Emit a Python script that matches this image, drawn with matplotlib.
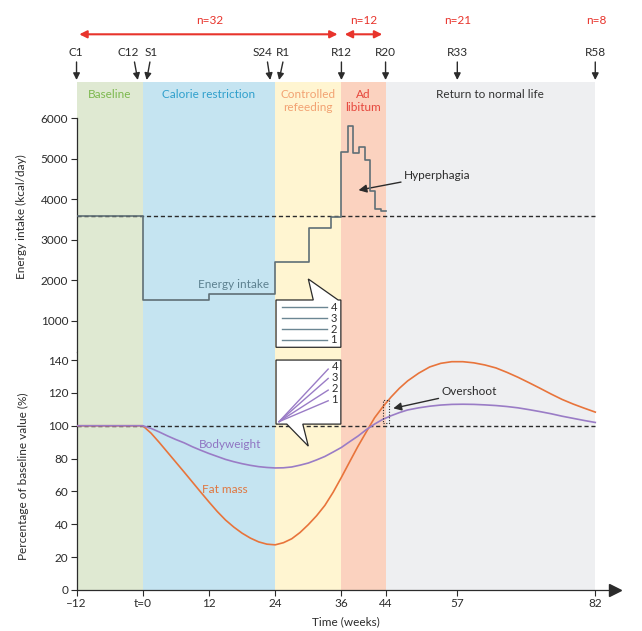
import numpy as np
import matplotlib.pyplot as plt
import matplotlib.transforms as mtransforms
from matplotlib.patches import Polygon, Rectangle

plt.rcParams['font.family'] = ['Lato', 'DejaVu Sans']
plt.rcParams['font.size'] = 8.5

# ---- data ----
phase_edges = [-12, 0, 24, 36, 44, 82]
phase_names = ['Baseline', 'Calorie restriction', 'Controlled\nrefeeding', 'Ad\nlibitum',
               'Return to normal life']
phase_fill = ['#dfe9d2', '#c5e4f1', '#fff5d1', '#fbd2bf', '#eeeff1']
phase_text = ['#7cb84e', '#2f9fcc', '#f2a272', '#e6463c', '#333333']

intake_weeks = [-12, 0, 12, 24, 30.2, 34.2, 36, 37.2, 38.1, 39.1, 40.2, 41.1, 42.1, 43.2, 44.1]
intake_kcal = [3600, 1520, 1660, 2460, 3290, 3560, 5180, 5820, 5140, 5280, 4970, 4210, 3760,
               3710, 3710]
baseline_kcal = 3600

curve_weeks = [-12, 0, 1.5, 3, 4.5, 6, 7.5, 9, 10.5, 12, 13.5, 15, 16.5, 18, 19.5, 21, 22.5,
               24, 25.5, 27, 28.5, 30, 31.5, 33, 34.5, 36, 37.5, 39, 40.5, 42, 43.5, 45, 46.5,
               48, 50, 52, 54, 56, 58, 60, 62, 64, 66, 68, 70, 72, 74, 76, 78, 80, 82]
bodyweight = [100, 100, 98.4, 96.2, 93.8, 91.6, 89.6, 87.2, 85.1, 83.1, 81.3, 79.5, 78.1, 76.9,
              75.9, 75.1, 74.6, 74.3, 74.4, 74.9, 76.0, 77.3, 79.2, 81.3, 84.0, 86.8, 90.3,
              93.7, 97.6, 101.0, 103.9, 106.1, 108.0, 109.6, 110.9, 111.9, 112.6, 113.0, 113.1,
              113.0, 112.7, 112.3, 111.7, 110.9, 109.8, 108.6, 107.3, 105.8, 104.5, 103.2, 102.0]
fat_mass = [100, 100, 95.5, 89.8, 83.8, 77.8, 71.8, 65.7, 59.6, 53.6, 47.8, 42.6, 38.3, 34.6,
            31.6, 29.3, 27.9, 27.5, 28.8, 31.2, 35.0, 39.8, 45.2, 51.5, 59.5, 68.6, 78.1, 87.5,
            96.2, 104.8, 111.5, 117.5, 122.8, 127.3, 132.0, 135.8, 138.0, 139.0, 139.0, 138.3,
            137.0, 135.2, 132.5, 129.5, 126.2, 122.8, 119.3, 116.0, 113.2, 110.7, 108.3]
baseline_pct = 100

xtick_weeks = [-12, 0, 12, 24, 36, 44, 57, 82]
xtick_labels = ['\u201312', 't=0', '12', '24', '36', '44', '57', '82']

visit_labels = ['C1', 'C12', 'S1', 'S24', 'R1', 'R12', 'R20', 'R33', 'R58']
visit_tip = [-12, -0.9, 0.7, 23.1, 24.7, 36, 44, 57, 82]
visit_tail = [-12, -1.5, 1.3, 22.6, 25.4, 36, 44, 57, 82]
visit_text = [-12.2, -2.6, 1.5, 21.7, 25.5, 36, 44, 57, 82]

n_labels = ['n=32', 'n=12', 'n=21', 'n=8']
n_weeks = [12.1, 40, 57, 82.2]
n_spans = [(-11.5, 35.3), (36.6, 43.4)]

step_levels = ['4', '3', '2', '1']
intake_levels = [1338, 1066, 795, 531]
weight_levels = [134.5, 128.8, 121.7, 115.2]
weight_label_pos = [136.0, 129.6, 122.6, 115.8]

DARK = '#2b2b2b'
RED = '#e8342c'

fig = plt.figure(figsize=(6.42, 6.31), dpi=100)
ax_top = fig.add_axes([0.1192, 0.44216, 0.8381, 0.42836])
ax_bot = fig.add_axes([0.1192, 0.06498, 0.8381, 0.37718])

for ax in (ax_top, ax_bot):
    for i in range(len(phase_names)):
        ax.axvspan(phase_edges[i], phase_edges[i + 1], color=phase_fill[i], lw=0, zorder=0)
    ax.set_xlim(-12, 85.5)
    ax.spines['top'].set_visible(False)
    ax.spines['right'].set_visible(False)
    ax.spines['left'].set_color(DARK)
    ax.spines['bottom'].set_color(DARK)
    ax.spines['left'].set_linewidth(0.9)
    ax.spines['bottom'].set_linewidth(0.9)
    ax.tick_params(direction='out', length=4, width=0.8, color=DARK, labelcolor=DARK, pad=2,
                   labelsize=8.5)

# ---- upper panel: energy intake ----
ax_top.set_ylim(235, 6903)
ax_top.spines['bottom'].set_visible(False)
ax_top.spines['left'].set_bounds(235, 6000)
ax_top.set_xticks([])
ax_top.set_yticks([1000, 2000, 3000, 4000, 5000, 6000])
ax_top.set_ylabel('Energy intake (kcal/day)', color=DARK, fontsize=8.5)
ax_top.yaxis.set_label_coords(-0.092, 0.5)

ax_top.plot([phase_edges[0], phase_edges[-1]], [baseline_kcal] * 2, ls=(0, (3, 2)),
            color=DARK, lw=1, zorder=3)
ax_top.plot(intake_weeks, intake_kcal, drawstyle='steps-post', color='#5f6f76', lw=1.2,
            zorder=4)

for i in range(len(phase_names)):
    mid = (phase_edges[i] + phase_edges[i + 1]) / 2
    ax_top.text(mid, 6720, phase_names[i], ha='center', va='top', color=phase_text[i],
                fontsize=8.5, linespacing=1.2)

ax_top.text(16.5, 1890, 'Energy intake', ha='center', va='center', color='#5d8190',
            fontsize=8.5)
ax_top.annotate('Hyperphagia', xy=(39.1, 4227), xytext=(47.3, 4596), va='center',
                color=DARK, fontsize=8.5,
                arrowprops=dict(arrowstyle='-|>', color=DARK, lw=1, mutation_scale=12,
                                shrinkA=0, shrinkB=0))

# callout with step legend
box_top = Polygon([(24.15, 1518), (30.9, 1518), (30.0, 2036), (35.4, 1518), (35.9, 1518),
                   (35.9, 351), (24.15, 351)], closed=True, fc='white', ec=DARK, lw=0.9,
                  zorder=5)
ax_top.add_patch(box_top)
for lab, lev in zip(step_levels, intake_levels):
    ax_top.plot([25.2, 33.3], [lev, lev], color='#6b8693', lw=1, zorder=6)
    ax_top.text(34.6, lev, lab, ha='center', va='center', fontsize=8, color=DARK, zorder=6)

# ---- lower panel: body composition ----
ax_bot.set_ylim(0, 144.9)
ax_bot.spines['bottom'].set_bounds(-12, 85.5)
ax_bot.set_yticks(np.arange(0, 141, 20))
ax_bot.set_xticks(xtick_weeks)
ax_bot.set_xticklabels(xtick_labels)
ax_bot.plot(1, 0, '>', color=DARK, ms=8, transform=ax_bot.transAxes, clip_on=False)
ax_bot.set_ylabel('Percentage of baseline value (%)', color=DARK, fontsize=8.5)
ax_bot.yaxis.set_label_coords(-0.088, 0.48)
ax_bot.set_xlabel('Time (weeks)', color=DARK, fontsize=8.5, labelpad=5)

ax_bot.plot([phase_edges[0], phase_edges[-1]], [baseline_pct] * 2, ls=(0, (3, 2)),
            color=DARK, lw=1, zorder=3)
ax_bot.plot(curve_weeks, fat_mass, color='#e8743b', lw=1.2, zorder=4)
ax_bot.plot(curve_weeks, bodyweight, color='#9a7cc6', lw=1.2, zorder=4)

ax_bot.text(15.8, 88.7, 'Bodyweight', ha='center', va='center', color='#8f74c2', fontsize=8.5)
ax_bot.text(14.8, 60.9, 'Fat mass', ha='center', va='center', color='#e0763f', fontsize=8.5)

ax_bot.add_patch(Rectangle((43.6, 101.5), 1.1, 14.1, fill=False, ls=(0, (1, 1.5)), lw=0.8,
                           ec=DARK, zorder=5))
ax_bot.annotate('Overshoot', xy=(45.4, 110.6), xytext=(54.1, 120.7), va='center',
                color=DARK, fontsize=8.5,
                arrowprops=dict(arrowstyle='-|>', color=DARK, lw=1, mutation_scale=12,
                                shrinkA=0, shrinkB=0))

box_bot = Polygon([(24.15, 140), (35.9, 140), (35.9, 101), (29.0, 101), (30.0, 87.6),
                   (26.1, 101), (24.15, 101)], closed=True, fc='white', ec=DARK, lw=0.9,
                  zorder=5)
ax_bot.add_patch(box_bot)
for lab, lev, pos in zip(step_levels, weight_levels, weight_label_pos):
    ax_bot.plot([24.7, 33.6], [102.5, lev], color='#9a7cc6', lw=1, zorder=6)
    ax_bot.text(34.8, pos, lab, ha='center', va='center', fontsize=8, color=DARK, zorder=6)

# ---- header: visits and group sizes ----
trans = mtransforms.blended_transform_factory(ax_bot.transData, fig.transFigure)
H = 631.0
for lab, tip, tail, tx in zip(visit_labels, visit_tip, visit_tail, visit_text):
    ax_bot.annotate('', xy=(tip, 1 - 80 / H), xytext=(tail, 1 - 62 / H), xycoords=trans,
                    textcoords=trans, annotation_clip=False,
                    arrowprops=dict(arrowstyle='-|>', color=DARK, lw=1, mutation_scale=10,
                                    shrinkA=0, shrinkB=0))
    ax_bot.text(tx, 1 - 52 / H, lab, transform=trans, ha='center', va='center', color=DARK,
                fontsize=8.5)

for x0, x1 in n_spans:
    ax_bot.annotate('', xy=(x0, 1 - 34.3 / H), xytext=(x1, 1 - 34.3 / H), xycoords=trans,
                    textcoords=trans, annotation_clip=False,
                    arrowprops=dict(arrowstyle='<|-|>', color=RED, lw=1.5, mutation_scale=11,
                                    shrinkA=0, shrinkB=0))
for lab, w in zip(n_labels, n_weeks):
    ax_bot.text(w, 1 - 20 / H, lab, transform=trans, ha='center', va='center', color=RED,
                fontsize=8.5)

fig.savefig('out.png', dpi=100)
